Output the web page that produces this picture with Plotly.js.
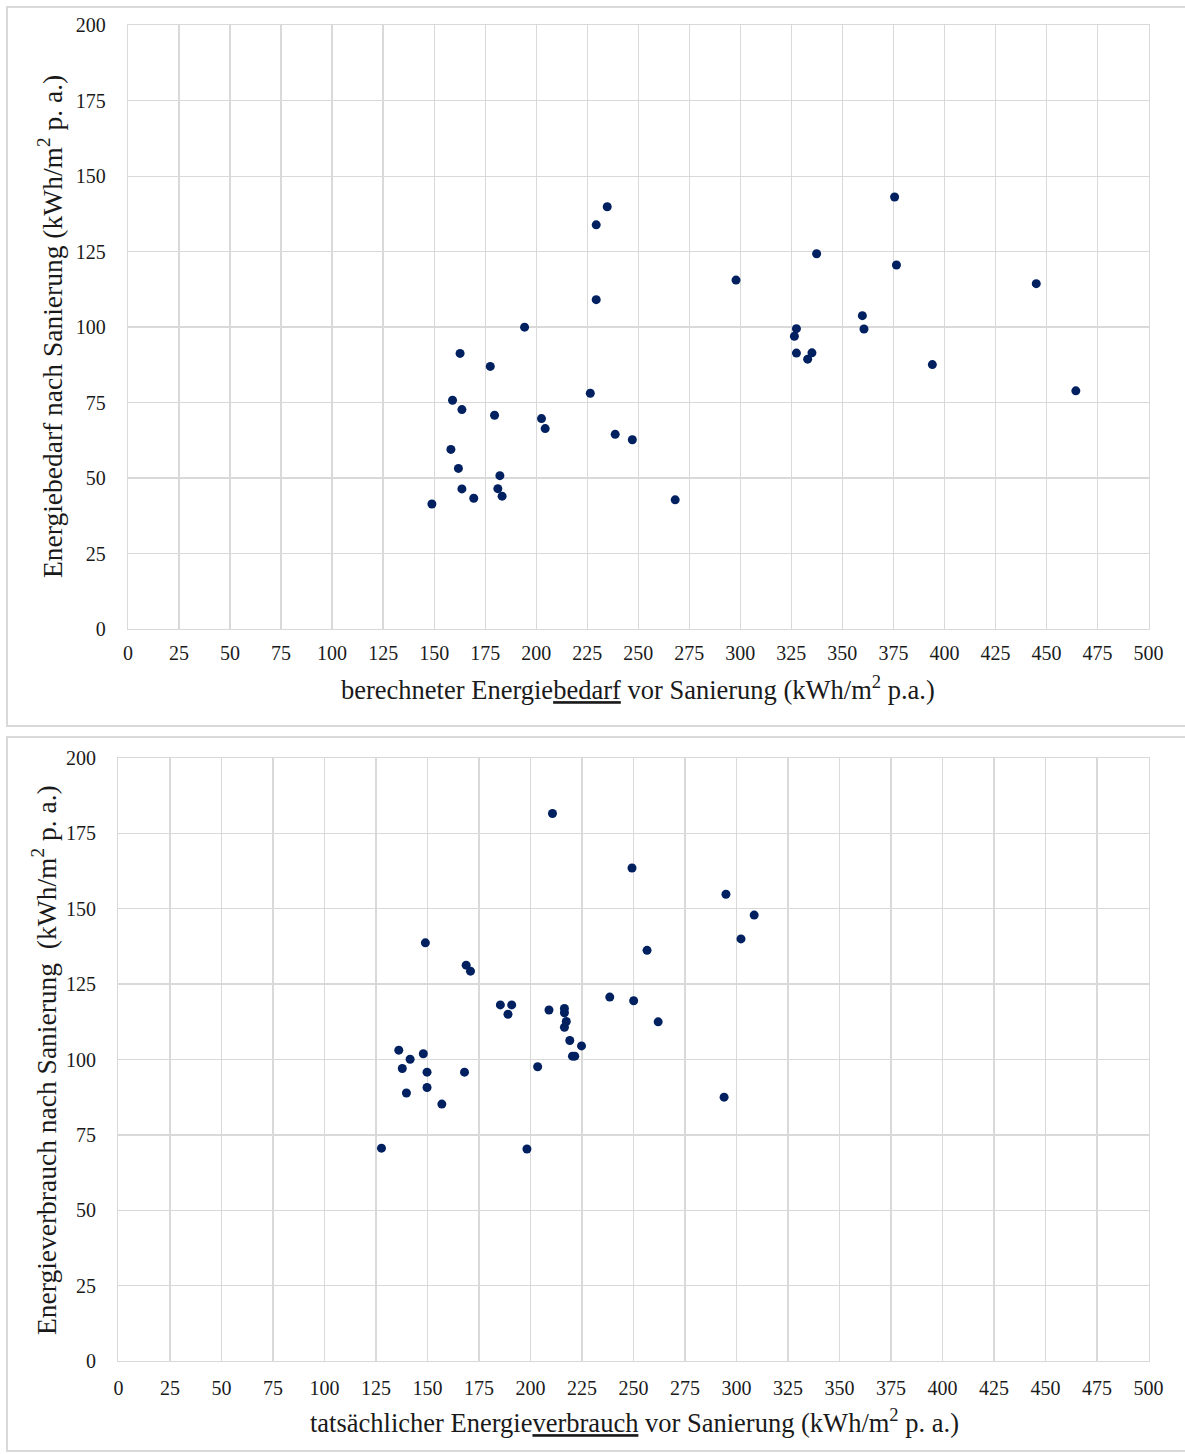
<!DOCTYPE html>
<html>
<head>
<meta charset="utf-8">
<script src="https://cdn.plot.ly/plotly-3.0.1.min.js"></script>
<style>html,body{margin:0;padding:0;background:#fff;}#chart{width:1185px;height:1454px;}</style>
</head>
<body>
<div id="chart"></div>
<script>
// Top chart: calculated demand before vs. after renovation
const bedarfVor = [148.9,158.2,159,161.9,162.7,163.6,163.6,169.4,177.5,179.6,181.2,182.2,183.3,194.3,202.6,204.4,226.5,229.4,229.4,234.8,238.7,247.1,268.1,297.9,326.5,327.5,327.5,333,335.1,337.4,359.8,360.6,375.6,376.5,394.1,445,464.4];
const bedarfNach = [41.4,59.5,75.8,53.2,91.3,46.4,72.7,43.3,87.0,70.8,46.5,50.8,44.0,100,69.7,66.4,78.1,133.9,109.1,139.9,64.5,62.7,42.8,115.6,97.0,99.5,91.4,89.4,91.5,124.3,103.8,99.4,143.1,120.6,87.6,114.4,78.9];
// Bottom chart: actual consumption before vs. after renovation
const verbrauchVor = [127.7,136.1,137.8,139.8,141.6,148,149,149.8,149.8,157,168,168.8,170.9,185.4,190.9,189.1,198.3,203.5,209,210.7,216.5,216.5,217.4,216.5,219.1,220.4,221.5,224.8,238.5,249.3,250.1,256.6,262,294,294.9,302.2,308.6];
const verbrauchNach = [70.6,103.1,97.0,88.9,100.1,101.9,138.7,95.8,90.7,85.2,95.8,131.3,129.3,118.1,118.1,115.0,70.3,97.6,116.4,181.6,116.9,115.5,112.6,110.7,106.3,101.1,101.1,104.5,120.7,163.5,119.5,136.2,112.5,87.5,154.8,140.0,147.9];

const xTicks = [0,25,50,75,100,125,150,175,200,225,250,275,300,325,350,375,400,425,450,475,500];
const yTicks = [0,25,50,75,100,125,150,175,200];

const titleTopX = 'berechneter Energie<u>bedarf</u> vor Sanierung (kWh/m<sup>2</sup> p.a.)';
const titleTopY = 'Energiebedarf nach Sanierung (kWh/m<sup>2</sup> p. a.)';
const titleBotX = 'tatsächlicher Energie<u>verbrauch</u> vor Sanierung (kWh/m<sup>2</sup> p. a.)';
const titleBotY = 'Energieverbrauch nach Sanierung  (kWh/m<sup>2</sup> p. a.)';

const W = 1185, H = 1454;
const px = v => v / W;
const py = v => 1 - v / H;

const marker = {color: '#002060', size: 9, line: {width: 0}};
const traces = [
  {x: bedarfVor, y: bedarfNach, type: 'scatter', mode: 'markers', marker: marker, xaxis: 'x', yaxis: 'y', hoverinfo: 'x+y'},
  {x: verbrauchVor, y: verbrauchNach, type: 'scatter', mode: 'markers', marker: marker, xaxis: 'x2', yaxis: 'y2', hoverinfo: 'x+y'}
];

const font = {family: '"Liberation Serif", "Times New Roman", serif', color: '#1a1a1a'};
function axis(extra) {
  return Object.assign({
    showgrid: true, gridcolor: '#d9d9d9', gridwidth: 1.3,
    showline: true, linecolor: '#d9d9d9', linewidth: 1.3, mirror: true,
    zeroline: false, ticks: '', fixedrange: true,
    tickfont: Object.assign({}, font, {size: 20})
  }, extra);
}

const layout = {
  width: W, height: H,
  margin: {l: 0, r: 0, t: 0, b: 0},
  paper_bgcolor: '#fff', plot_bgcolor: '#fff',
  showlegend: false,
  font: font,
  xaxis: axis({domain: [px(128), px(1148.5)], range: [0, 500], tickvals: xTicks, ticktext: xTicks.map(String), anchor: 'y', ticklabelstandoff: 6}),
  yaxis: axis({domain: [py(629), py(25.3)], range: [0, 200], tickvals: yTicks, ticktext: yTicks.map(String), anchor: 'x', ticklabelstandoff: 17}),
  xaxis2: axis({domain: [px(118.4), px(1148.5)], range: [0, 500], tickvals: xTicks, ticktext: xTicks.map(String), anchor: 'y2', ticklabelstandoff: 9}),
  yaxis2: axis({domain: [py(1361), py(758)], range: [0, 200], tickvals: yTicks, ticktext: yTicks.map(String), anchor: 'x2', ticklabelstandoff: 17}),
  shapes: [
    {type: 'rect', xref: 'paper', yref: 'paper', x0: px(7), x1: px(1192), y0: py(726), y1: py(7), line: {color: '#d9d9d9', width: 2}, layer: 'below'},
    {type: 'rect', xref: 'paper', yref: 'paper', x0: px(7), x1: px(1192), y0: py(1451), y1: py(737), line: {color: '#d9d9d9', width: 2}, layer: 'below'}
  ],
  annotations: [
    {text: titleTopX, xref: 'paper', yref: 'paper', x: px(638), y: py(688), xanchor: 'center', yanchor: 'middle', showarrow: false, font: Object.assign({}, font, {size: 26.5})},
    {text: titleTopY, xref: 'paper', yref: 'paper', x: px(51), y: py(327), xanchor: 'center', yanchor: 'middle', textangle: -90, showarrow: false, font: Object.assign({}, font, {size: 27.5})},
    {text: titleBotX, xref: 'paper', yref: 'paper', x: px(634), y: py(1421), xanchor: 'center', yanchor: 'middle', showarrow: false, font: Object.assign({}, font, {size: 26.5})},
    {text: titleBotY, xref: 'paper', yref: 'paper', x: px(44), y: py(1060), xanchor: 'center', yanchor: 'middle', textangle: -90, showarrow: false, font: Object.assign({}, font, {size: 27.5})}
  ]
};

Plotly.newPlot('chart', traces, layout, {displayModeBar: false, staticPlot: true});
</script>
</body>
</html>
